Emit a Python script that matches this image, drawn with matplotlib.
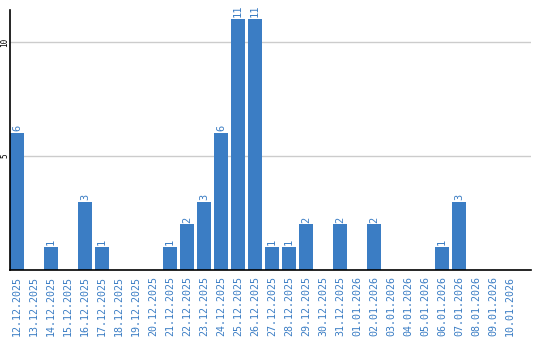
import numpy as np
import matplotlib
matplotlib.use('Agg')
import matplotlib.pyplot as plt

dates = ['12.12.2025', '13.12.2025', '14.12.2025', '15.12.2025', '16.12.2025',
         '17.12.2025', '18.12.2025', '19.12.2025', '20.12.2025', '21.12.2025',
         '22.12.2025', '23.12.2025', '24.12.2025', '25.12.2025', '26.12.2025',
         '27.12.2025', '28.12.2025', '29.12.2025', '30.12.2025', '31.12.2025',
         '01.01.2026', '02.01.2026', '03.01.2026', '04.01.2026', '05.01.2026',
         '06.01.2026', '07.01.2026', '08.01.2026', '09.01.2026', '10.01.2026']
counts = [6, 0, 1, 0, 3, 1, 0, 0, 0, 1, 2, 3, 6, 11, 11,
          1, 1, 2, 0, 2, 0, 2, 0, 0, 0, 1, 3, 0, 0, 0]
yticks = [5, 10]

blue = '#3b7dc4'

fig = plt.figure(figsize=(5.4, 3.4), dpi=100)
ax = fig.add_axes([10/540, 70/340, 521/540, 260/340])

x = np.arange(len(dates))
bw = 14/17.
ax.bar(x, counts, width=bw, color=blue, align='edge', zorder=2)

for xi, c in zip(x, counts):
    if c > 0:
        ax.text(xi + bw/2, c + 0.08, str(c), rotation=90, ha='center', va='bottom',
                color=blue, fontsize=7.5, family='DejaVu Sans Mono')

ax.set_xlim(0, len(dates) + 0.65)
ax.set_ylim(0, 260/22.8)

ax.set_yticks(yticks)
ax.set_yticklabels([str(t) for t in yticks], rotation=90, va='center',
                   fontsize=5.5, family='DejaVu Sans Mono')
ax.tick_params(axis='y', length=0, pad=0.5)
ax.set_xticks(x + bw/2)
ax.set_xticklabels(dates, rotation=90, color=blue, fontsize=7.2,
                   family='DejaVu Sans Mono', va='top')
ax.tick_params(axis='x', length=0, pad=4)

ax.grid(axis='y', color='#cccccc', linewidth=1, zorder=0)
for s in ['top', 'right']:
    ax.spines[s].set_visible(False)
ax.spines['left'].set_linewidth(1.2)
ax.spines['bottom'].set_linewidth(1.2)

fig.savefig('out.png', dpi=100)
